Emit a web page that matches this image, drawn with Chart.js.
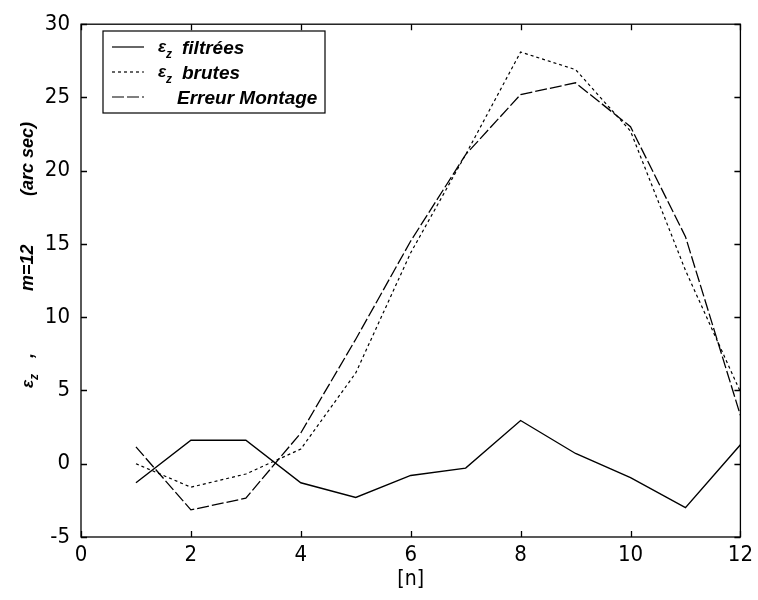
<!DOCTYPE html>
<html>
<head>
<meta charset="utf-8">
<script src="https://cdn.jsdelivr.net/npm/chart.js@4/dist/chart.umd.min.js"></script>
<style>
  html, body { margin: 0; padding: 0; background: #fff; }
  #wrap { width: 758px; height: 600px; }
</style>
</head>
<body>
<div id="wrap"><canvas id="c" width="758" height="600"></canvas></div>
<script>
// Sample index n
const n = [1, 2, 3, 4, 5, 6, 7, 8, 9, 10, 11, 12];
// ε_z filtered (arc sec)
const filtrees = [-1.3, 1.6, 1.6, -1.3, -2.3, -0.8, -0.3, 2.95, 0.7, -0.95, -3.0, 1.3];
// ε_z raw (arc sec)
const brutes = [0.0, -1.6, -0.7, 1.0, 6.2, 14.4, 21.1, 28.1, 26.9, 22.7, 13.2, 4.9];
// Mounting error (arc sec)
const erreur = [1.15, -3.15, -2.35, 2.1, 8.5, 15.2, 21.1, 25.2, 26.0, 23.0, 15.5, 3.3];

// Axis ticks
const xTicks = [0, 2, 4, 6, 8, 10, 12];
const yTicks = [-5, 0, 5, 10, 15, 20, 25, 30];

const legendNames = ['filtrées', 'brutes', 'Erreur Montage'];
const tickFont = '"Liberation Sans Narrow", "Arial Narrow", "DejaVu Sans Condensed", Arial, sans-serif';
const bi = size => 'italic bold ' + size + 'px "Liberation Sans", Arial, sans-serif';

const pts = ys => n.map((x, i) => ({ x: x, y: ys[i] }));

// Box, inward ticks, legend and y-axis title
const decor = {
  id: 'decor',
  afterDatasetsDraw(chart) {
    const ctx = chart.ctx;
    const a = chart.chartArea;
    const xs = chart.scales.x, ys = chart.scales.y;
    ctx.save();
    ctx.strokeStyle = '#000';
    ctx.lineWidth = 1.3;
    ctx.setLineDash([]);
    ctx.strokeRect(a.left, a.top, a.right - a.left, a.bottom - a.top);
    const L = 6;
    ctx.beginPath();
    xTicks.forEach(v => {
      const p = Math.round(xs.getPixelForValue(v)) + 0.5;
      ctx.moveTo(p, a.bottom); ctx.lineTo(p, a.bottom - L);
      ctx.moveTo(p, a.top); ctx.lineTo(p, a.top + L);
    });
    yTicks.forEach(v => {
      const p = Math.round(ys.getPixelForValue(v)) + 0.5;
      ctx.moveTo(a.left, p); ctx.lineTo(a.left + L, p);
      ctx.moveTo(a.right, p); ctx.lineTo(a.right - L, p);
    });
    ctx.stroke();

    // legend
    const bx = 103, by = 31, bw = 222, bh = 82;
    ctx.fillStyle = '#fff';
    ctx.fillRect(bx, by, bw, bh);
    ctx.lineWidth = 1.2;
    ctx.strokeRect(bx, by, bw, bh);
    const rows = [47, 72, 97];
    chart.data.datasets.forEach((ds, i) => {
      const y = rows[i];
      ctx.strokeStyle = '#000';
      ctx.lineWidth = 1.2;
      ctx.setLineDash(ds.borderDash || []);
      ctx.beginPath();
      ctx.moveTo(112, y); ctx.lineTo(144, y);
      ctx.stroke();
      ctx.setLineDash([]);
      ctx.fillStyle = '#000';
      ctx.textBaseline = 'alphabetic';
      let x;
      if (i < 2) {
        ctx.font = bi(17);
        ctx.fillText('ε', 158, y + 5);
        ctx.font = bi(12);
        ctx.fillText('z', 166, y + 11);
        x = 182;
      } else {
        x = 177;
      }
      ctx.font = bi(19);
      ctx.fillText(legendNames[i], x, y + 7);
    });

    // y-axis title, rotated
    ctx.translate(33, 388);
    ctx.rotate(-Math.PI / 2);
    ctx.fillStyle = '#000';
    ctx.textBaseline = 'alphabetic';
    ctx.font = bi(17);
    ctx.fillText('ε', 0, 0);
    ctx.font = bi(12);
    ctx.fillText('z', 8, 5);
    ctx.font = bi(18);
    ctx.fillText(',', 30, 0);
    ctx.fillText('m=12', 97, 0);
    ctx.fillText('(arc sec)', 192, 0);
    ctx.restore();
  }
};

new Chart(document.getElementById('c'), {
  type: 'line',
  data: {
    datasets: [
      { label: 'εz filtrées', data: pts(filtrees), borderColor: '#000', borderWidth: 1.4, borderDash: [], pointRadius: 0, tension: 0, fill: false },
      { label: 'εz brutes', data: pts(brutes), borderColor: '#000', borderWidth: 1.2, borderDash: [3, 3], pointRadius: 0, tension: 0, fill: false },
      { label: 'Erreur Montage', data: pts(erreur), borderColor: '#000', borderWidth: 1.3, borderDash: [12, 3], pointRadius: 0, tension: 0, fill: false }
    ]
  },
  options: {
    responsive: false,
    animation: false,
    events: [],
    layout: { padding: { top: 17, right: 15, left: 0, bottom: 0 } },
    plugins: { legend: { display: false }, tooltip: { enabled: false } },
    scales: {
      x: {
        type: 'linear', min: 0, max: 12,
        afterBuildTicks: s => { s.ticks = xTicks.map(v => ({ value: v })); },
        afterFit: s => { s.height = 63; },
        grid: { display: true, drawOnChartArea: false, drawTicks: false },
        border: { display: false },
        ticks: { color: '#000', padding: 5, font: { family: tickFont, size: 22 }, maxRotation: 0 },
        title: { display: true, text: '[n]', color: '#000', font: { family: tickFont, size: 21 }, padding: { top: 0, bottom: 8 } }
      },
      y: {
        type: 'linear', min: -5, max: 30,
        afterBuildTicks: s => { s.ticks = yTicks.map(v => ({ value: v })); },
        afterFit: s => { s.width = 81; },
        grid: { display: true, drawOnChartArea: false, drawTicks: false },
        border: { display: false },
        ticks: { color: '#000', padding: 11, font: { family: tickFont, size: 22 } }
      }
    }
  },
  plugins: [decor]
});
</script>
</body>
</html>
